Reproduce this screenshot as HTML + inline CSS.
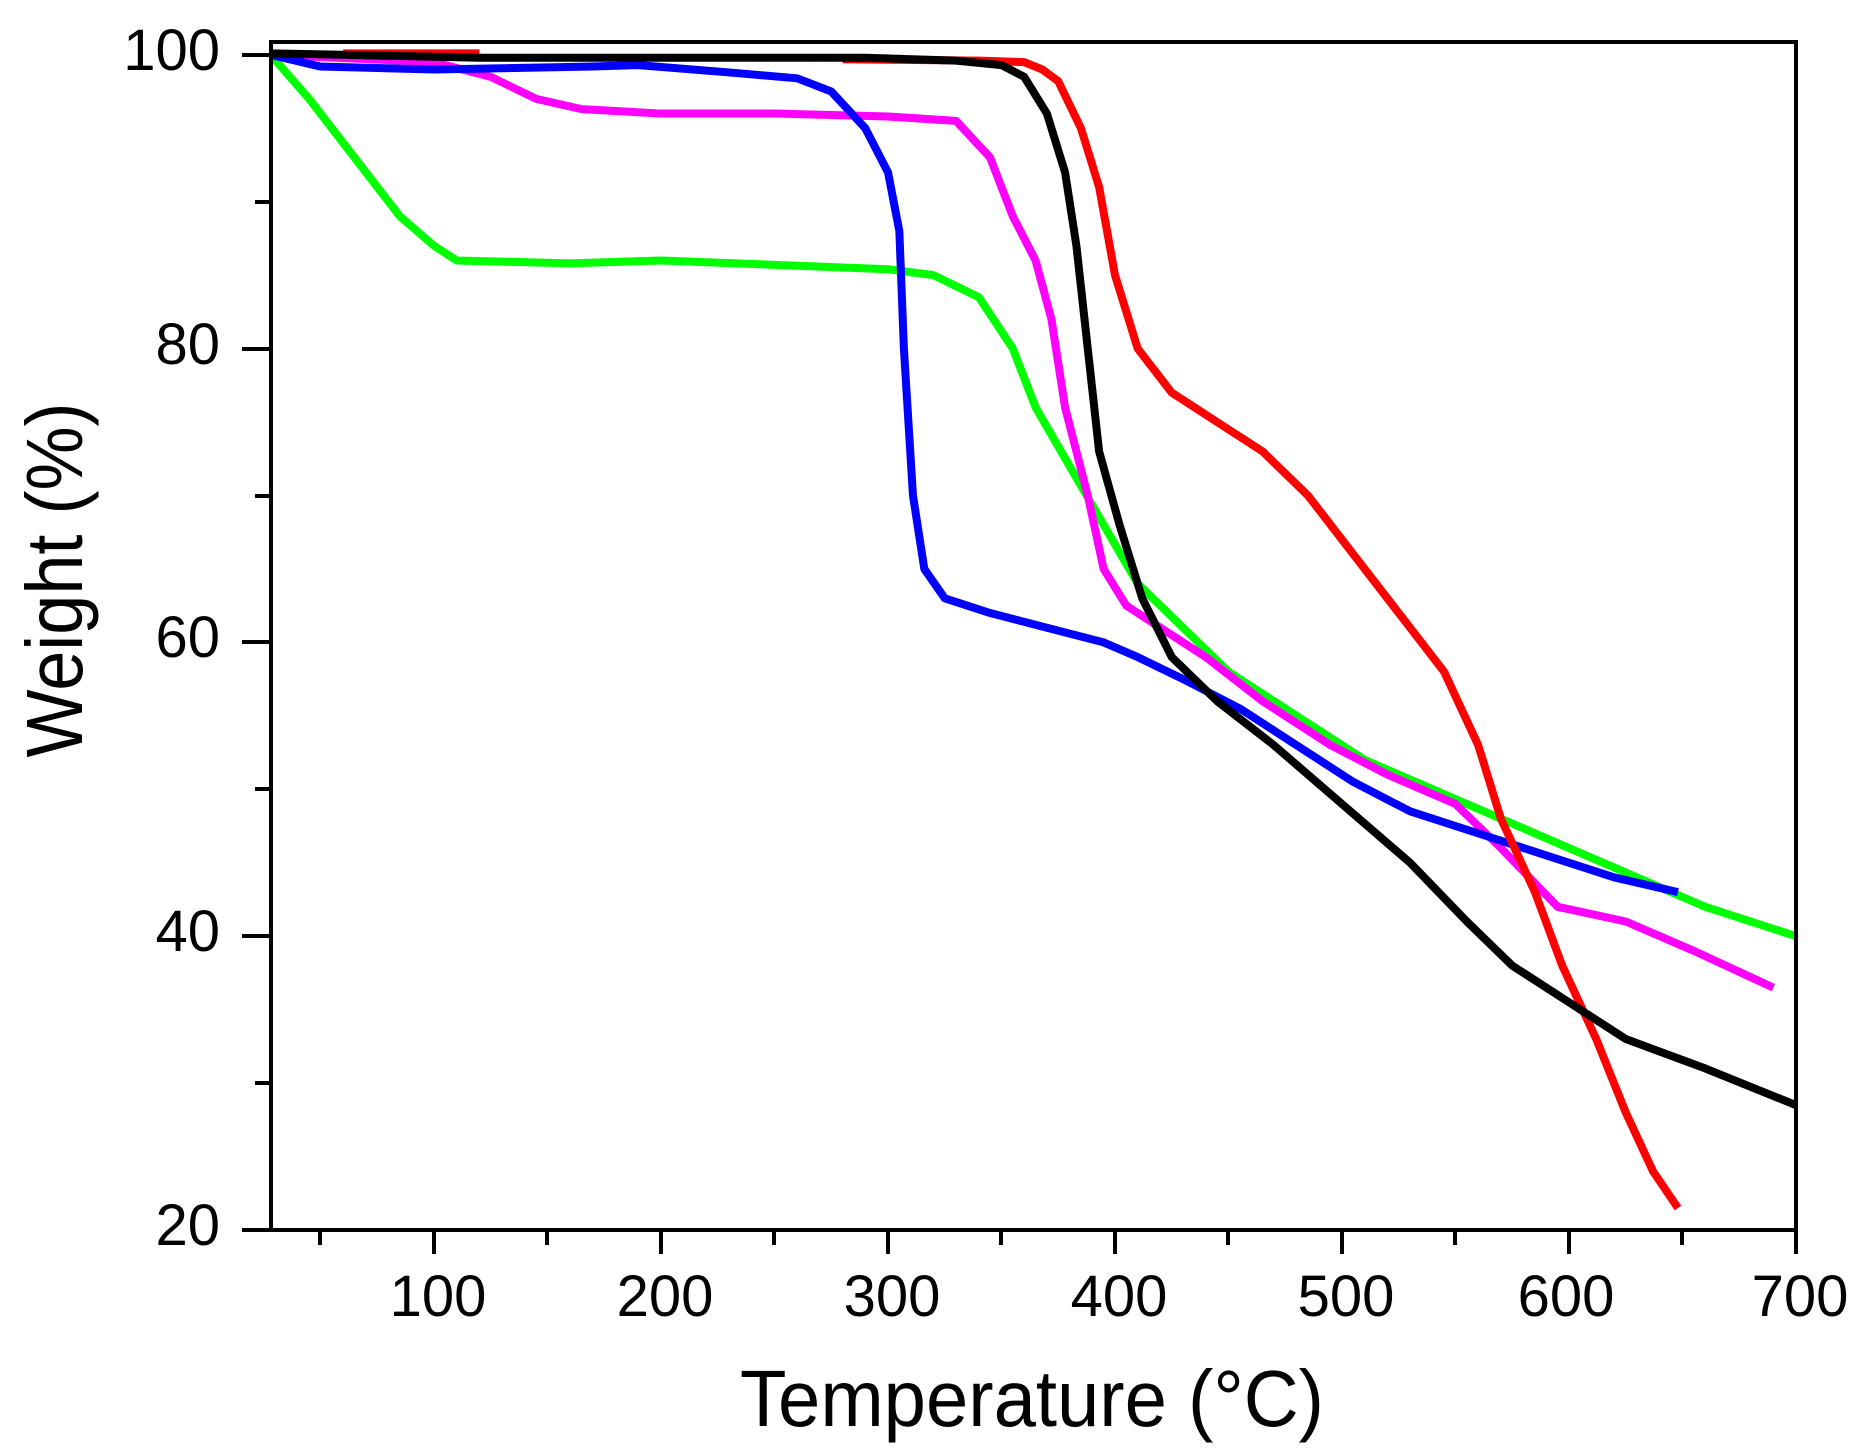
<!DOCTYPE html>
<html><head><meta charset="utf-8"><style>
html,body{margin:0;padding:0;background:#fff;}
svg{display:block;}
text{font-family:"Liberation Sans",sans-serif;fill:#000;}
</style></head><body>
<svg width="1857" height="1455" viewBox="0 0 1857 1455" xmlns="http://www.w3.org/2000/svg">
<rect width="1857" height="1455" fill="#fff"/>
<defs><clipPath id="c"><rect x="271" y="42" width="1525" height="1188"/></clipPath></defs>
<g clip-path="url(#c)" fill="none" stroke-width="8" stroke-linejoin="round" stroke-linecap="butt">
<g transform="matrix(2.27,0,0,-14.69,207,1523.8)">
<polyline vector-effect="non-scaling-stroke" stroke="#00ff00" points="28,100 45,97 65,93 85,89 100,87 110,86 160,85.8 200,86 250,85.7 300,85.4 320,85 340,83.5 355,80 365,76 380,72 395,68 410,64 430,61 450,58 480,55 510,52 540,50 570,48 600,46 630,44 660,42 700,40"/>
<polyline vector-effect="non-scaling-stroke" stroke="#ff00ff" points="28,100 100,99.5 125,98.5 145,97 165,96.3 200,96 250,96 300,95.8 330,95.5 345,93 355,89 365,86 372,82 378,76 388,70 395,65 405,62.5 420,61 440,59 465,56 495,53 520,51 550,49 570,46 595,42 625,41 655,39 690,36.5"/>
<polyline vector-effect="non-scaling-stroke" stroke="#0000ff" points="28,100 50,99.2 100,99 170,99.2 190,99.3 230,98.8 260,98.4 275,97.5 290,95 300,92 305,88 307,80 311,70 316,65 325,63 345,62 370,61 395,60 410,59 430,57.5 455,55.5 480,53 505,50.5 530,48.5 560,47 590,45.5 620,44 648,43"/>
<polyline vector-effect="non-scaling-stroke" stroke="#ff0000" points="60,100.1 120,100.1"/>
<polyline vector-effect="non-scaling-stroke" stroke="#ff0000" points="280,99.7 340,99.6 360,99.5 368,99 375,98.2 385,95 393,91 400,85 410,80 425,77 445,75 465,73 485,70 505,66 525,62 545,58 560,53 570,48 585,43 597,38 612,33 625,28 637,24 648,21.5"/>
<polyline vector-effect="non-scaling-stroke" stroke="#000000" points="28,100.1 60,100 120,99.8 290,99.8 330,99.6 350,99.3 360,98.5 370,96 378,92 383,87 388,80 393,73 402,68 412,63 425,59 445,56 470,53 500,49 530,45 555,41 575,38 600,35.5 625,33 660,31 700,28.5"/>
</g></g>
<rect x="271" y="42" width="1525" height="1188" fill="none" stroke="#000" stroke-width="4"/>
<g stroke="#000" stroke-width="4">
<line x1="242" y1="55" x2="271" y2="55"/><line x1="242" y1="349" x2="271" y2="349"/><line x1="242" y1="642" x2="271" y2="642"/><line x1="242" y1="936" x2="271" y2="936"/><line x1="242" y1="1230" x2="271" y2="1230"/>
<line x1="255" y1="202" x2="271" y2="202"/><line x1="255" y1="496" x2="271" y2="496"/><line x1="255" y1="789" x2="271" y2="789"/><line x1="255" y1="1083" x2="271" y2="1083"/>
<line x1="434" y1="1230" x2="434" y2="1254"/><line x1="661" y1="1230" x2="661" y2="1254"/><line x1="888" y1="1230" x2="888" y2="1254"/><line x1="1115" y1="1230" x2="1115" y2="1254"/><line x1="1342" y1="1230" x2="1342" y2="1254"/><line x1="1569" y1="1230" x2="1569" y2="1254"/><line x1="1796" y1="1230" x2="1796" y2="1254"/>
<line x1="320" y1="1230" x2="320" y2="1245"/><line x1="547" y1="1230" x2="547" y2="1245"/><line x1="774" y1="1230" x2="774" y2="1245"/><line x1="1001" y1="1230" x2="1001" y2="1245"/><line x1="1228" y1="1230" x2="1228" y2="1245"/><line x1="1455" y1="1230" x2="1455" y2="1245"/><line x1="1682" y1="1230" x2="1682" y2="1245"/>
</g>
<g font-size="58" text-anchor="end">
<text x="220" y="70">100</text><text x="220" y="364">80</text><text x="220" y="657">60</text><text x="220" y="951">40</text><text x="220" y="1245">20</text>
</g>
<g font-size="58" text-anchor="middle">
<text x="438" y="1316">100</text><text x="665" y="1316">200</text><text x="892" y="1316">300</text><text x="1119" y="1316">400</text><text x="1346" y="1316">500</text><text x="1566" y="1316">600</text><text x="1800" y="1316">700</text>
</g>
<text x="1032" y="1426" font-size="80" text-anchor="middle" textLength="584" lengthAdjust="spacingAndGlyphs">Temperature (°C)</text>
<text transform="translate(82,580) rotate(-90)" font-size="80" text-anchor="middle" textLength="355" lengthAdjust="spacingAndGlyphs">Weight (%)</text>
</svg>
</body></html>
